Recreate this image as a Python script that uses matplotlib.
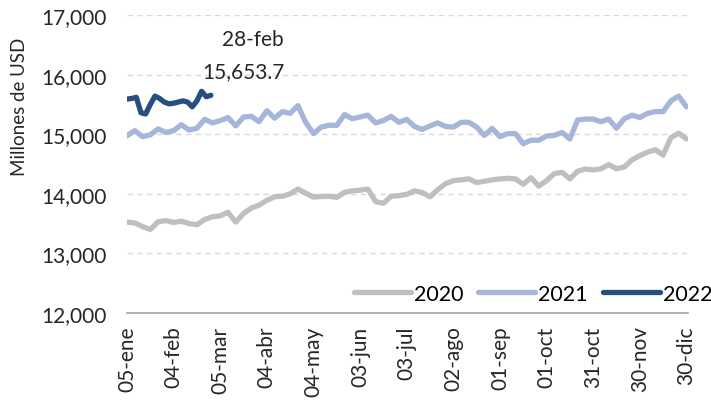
import numpy as np
import matplotlib
matplotlib.use("Agg")
matplotlib.rcParams.update({
    "font.family": ["Lato", "DejaVu Sans"],
    "font.size": 15,
})
import matplotlib.pyplot as plt

# days counted from 05-ene
days = np.arange(0, 361, 5)
reserves_2020 = [
    13525, 13510, 13450, 13400, 13530, 13550, 13520, 13540, 13500, 13480,
    13570, 13615, 13630, 13690, 13525, 13670, 13760, 13810, 13890, 13950,
    13960, 14000, 14080, 14010, 13945, 13955, 13960, 13940, 14025, 14050,
    14060, 14080, 13870, 13840, 13960, 13970, 13990, 14050, 14020, 13950,
    14070, 14170, 14220, 14235, 14250, 14190, 14210, 14235, 14250, 14260,
    14250, 14160, 14270, 14130, 14220, 14340, 14360, 14250, 14380, 14416,
    14400, 14420, 14490, 14420, 14450, 14570, 14640, 14700, 14740, 14650,
    14940, 15020, 14920,
]
reserves_2021 = [
    14975, 15060, 14960, 14990, 15090, 15030, 15060, 15160, 15070, 15100,
    15250, 15190, 15230, 15280, 15140, 15290, 15300, 15210, 15395, 15270,
    15380, 15350, 15480, 15200, 15010, 15120, 15150, 15150, 15330, 15260,
    15290, 15320, 15190, 15230, 15300, 15200, 15250, 15130, 15080, 15140,
    15190, 15130, 15120, 15200, 15200, 15120, 14980, 15100, 14960, 15010,
    15010, 14840, 14900, 14900, 14970, 14980, 15030, 14920, 15240, 15255,
    15255, 15210, 15255, 15100, 15260, 15320, 15280, 15350, 15380, 15380,
    15560, 15640, 15460,
]
days_2022 = np.arange(0, 55, 3)
reserves_2022 = [
    15590, 15600, 15620, 15360, 15340, 15500, 15640, 15600, 15540, 15510,
    15520, 15540, 15560, 15540, 15460, 15560, 15720, 15630, 15653.7,
]

tick_days = np.arange(0, 361, 30)
tick_labels = ["05-ene", "04-feb", "05-mar", "04-abr", "04-may", "03-jun",
               "03-jul", "02-ago", "01-sep", "01-oct", "31-oct", "30-nov",
               "30-dic"]

fig = plt.figure(figsize=(7.11, 4.02), dpi=100)
ax = fig.add_axes([0.1786, 0.219, 0.789, 0.741])

lw = 3.8
ax.plot(days, reserves_2020, color="#BFBFBF", lw=lw, solid_capstyle="round",
        solid_joinstyle="round", label="2020")
ax.plot(days, reserves_2021, color="#A5B6DA", lw=lw, solid_capstyle="round",
        solid_joinstyle="round", label="2021")
ax.plot(days_2022, reserves_2022, color="#264F80", lw=lw,
        solid_capstyle="round", solid_joinstyle="round", label="2022")

ax.text(81, 16597, "28-feb", ha="center", va="center", color="#262626")
ax.text(74.7, 16060, "15,653.7", ha="center", va="center", color="#262626")

ax.set_xlim(0, 361)
ax.set_ylim(12000, 17000)
ax.set_yticks(np.arange(12000, 17001, 1000))
ax.set_yticklabels([f"{v:,}" for v in range(12000, 17001, 1000)])
ax.set_xticks(tick_days)
ax.set_xticklabels(tick_labels, rotation=90)
ax.tick_params(length=0, colors="#262626")
ax.tick_params(axis="y", pad=15)
ax.tick_params(axis="x", pad=9)
ax.set_ylabel("Millones de USD", fontsize=13.5, color="#262626")
ax.yaxis.set_label_coords(-0.176, 0.695)

ax.grid(axis="y", color="#D9D9D9", ls=(0, (4, 3)), lw=1)
for y in ax.get_ygridlines()[:1]:
    y.set_visible(False)
for s in ("top", "right", "left"):
    ax.spines[s].set_visible(False)
ax.spines["bottom"].set_color("#A6A6A6")
ax.spines["bottom"].set_linewidth(1.2)

ax.legend(loc="center right", bbox_to_anchor=(1.059, 0.064), ncol=3,
          frameon=False, fontsize=15.5, handlelength=2.65, handletextpad=0.14,
          columnspacing=0.7, borderaxespad=0)

fig.savefig("out.png", dpi=100)
